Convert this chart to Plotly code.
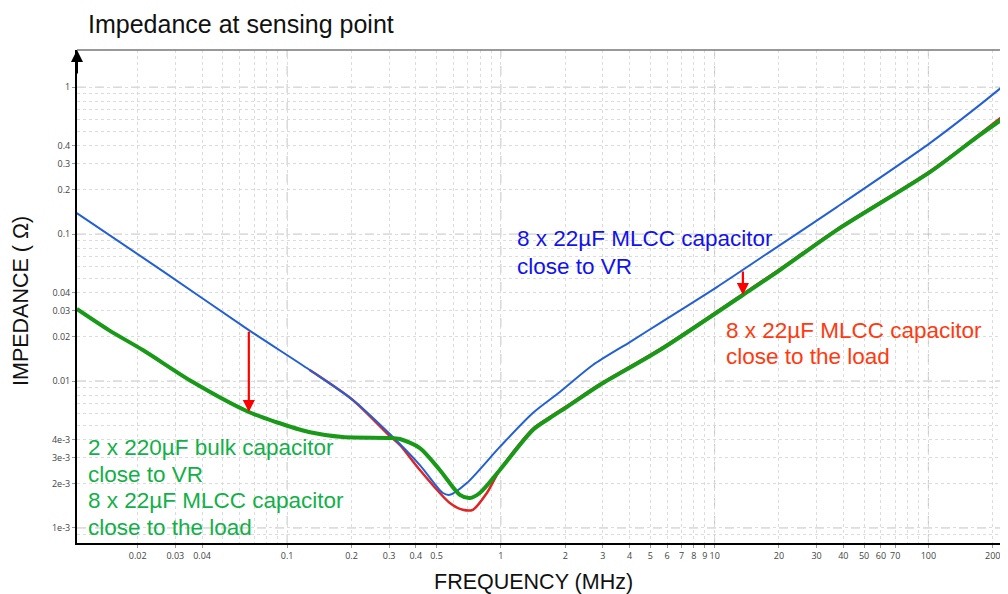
import math
import plotly.graph_objects as go

# ---------------- data (frequency in MHz, impedance in ohm) ----------------
freq_blue = [0.01038, 0.0262, 0.0662, 0.1276, 0.2029, 0.299, 0.418, 0.5355, 0.577,
             0.693, 0.989, 1.411, 1.888, 2.695, 4.015, 5.55, 10.25, 20.21, 37.3, 101.7, 168.8, 235.8]
z_blue = [0.139, 0.0560, 0.0222, 0.01188, 0.00743, 0.00443, 0.00268, 0.00173, 0.00168,
          0.00202, 0.00356, 0.00606, 0.00842, 0.01285, 0.01842, 0.0248, 0.0436, 0.0842, 0.1527,
          0.416, 0.731, 1.082]

# red coincides with blue below ~0.13 MHz (hidden underneath it in the reference)
freq_red = [0.1276, 0.2029, 0.299, 0.3368, 0.418, 0.577, 0.664,
            0.7396, 0.860, 0.989, 1.411, 1.696, 2.036, 2.905, 5.55, 13.56, 20.21, 37.3, 101.7,
            168.8, 235.8]
z_red = [0.01188, 0.00743, 0.00429, 0.00367, 0.00248, 0.00148, 0.00133,
         0.00133, 0.00173, 0.00248, 0.00472, 0.00568, 0.00676, 0.00953, 0.0165, 0.0391, 0.0578,
         0.108, 0.268, 0.464, 0.676]

freq_green = [0.01038, 0.01465, 0.02113, 0.0362, 0.0662, 0.0885, 0.1263, 0.1823, 0.299, 0.3368,
              0.418, 0.518, 0.643, 0.716, 0.797, 0.989, 1.411, 1.696, 2.036, 2.905, 5.55, 13.56,
              20.21, 37.3, 101.7, 168.8, 235.8]
z_green = [0.0309, 0.0222, 0.01625, 0.00984, 0.00615, 0.00526, 0.00450, 0.00416, 0.00410, 0.00403,
           0.00350, 0.00248, 0.00168, 0.00160, 0.00173, 0.00248, 0.00464, 0.00560, 0.00665,
           0.00939, 0.01625, 0.0385, 0.0569, 0.1065, 0.264, 0.457, 0.645]

# red arrows (frequency, start impedance, end impedance)
arrow_freq = [0.0662, 13.56]
arrow_from = [0.0222, 0.0569]
arrow_to = [0.00615, 0.0385]

x_tick_vals = [0.02, 0.03, 0.04, 0.1, 0.2, 0.3, 0.4, 0.5, 1, 2, 3, 4, 5, 6, 7, 8, 9, 10,
               20, 30, 40, 50, 60, 70, 100, 200]
x_tick_text = ["0.02", "0.03", "0.04", "0.1", "0.2", "0.3", "0.4", "0.5", "1", "2", "3", "4", "5",
               "6", "7", "8", "9", "10", "20", "30", "40", "50", "60", "70", "100", "200"]
y_tick_vals = [1, 0.4, 0.3, 0.2, 0.1, 0.04, 0.03, 0.02, 0.01, 0.004, 0.003, 0.002, 0.001]
y_tick_text = ["1", "0.4", "0.3", "0.2", "0.1", "0.04", "0.03", "0.02", "0.01",
               "4e-3", "3e-3", "2e-3", "1e-3"]

x_range = [0.0104, 235.8]
y_range = [7.9e-4, 1.79]

# ---------------- figure ----------------
# The page body has an 8px margin, so the figure is 8px smaller and every
# position is measured relative to the plot area.
OFF = 8
W, H = 1008 - OFF, 594 - OFF
PW, PH, L, T = 931, 493, 77, 50  # plot area in window pixels

fig = go.Figure()
smooth = 0.8
fig.add_trace(go.Scatter(x=freq_red, y=z_red, mode="lines",
                         line=dict(color="#e02424", width=2.5, shape="spline", smoothing=smooth),
                         name="MLCC close to the load"))
fig.add_trace(go.Scatter(x=freq_blue, y=z_blue, mode="lines",
                         line=dict(color="#2360d6", width=2, shape="spline", smoothing=smooth),
                         name="MLCC close to VR"))
fig.add_trace(go.Scatter(x=freq_green, y=z_green, mode="lines",
                         line=dict(color="#189a18", width=4, shape="spline", smoothing=smooth),
                         name="bulk + MLCC"))

decades_x = [0.01, 0.1, 1, 10, 100]
decades_y = [1e-3, 1e-2, 1e-1, 1]
minor_x = [m * d for d in [0.01, 0.1, 1, 10, 100] for m in range(1, 10)]
minor_y = [m * d for d in [1e-4, 1e-3, 1e-2, 1e-1, 1] for m in range(1, 10)]

lx0, lx1 = math.log10(x_range[0]), math.log10(x_range[1])
ly0, ly1 = math.log10(y_range[0]), math.log10(y_range[1])

shapes = []
for d in decades_x:
    p = (math.log10(d) - lx0) / (lx1 - lx0)
    if 0 < p < 1:
        shapes.append(dict(type="line", xref="paper", yref="paper", x0=p, x1=p, y0=0, y1=1,
                           line=dict(color="#c4c4c4", width=1, dash="dash"), layer="below"))
for d in decades_y:
    p = (math.log10(d) - ly0) / (ly1 - ly0)
    if 0 < p < 1:
        shapes.append(dict(type="line", xref="paper", yref="paper", x0=0, x1=1, y0=p, y1=p,
                           line=dict(color="#c4c4c4", width=1, dash="dash"), layer="below"))
shapes.append(dict(type="line", xref="paper", yref="paper", x0=0, x1=1, y0=1, y1=1,
                   line=dict(color="#777777", width=1.5)))

annotations = []
for f, a, b in zip(arrow_freq, arrow_from, arrow_to):
    annotations.append(dict(x=math.log10(f), y=math.log10(b), ax=math.log10(f), ay=math.log10(a),
                            xref="x", yref="y", axref="x", ayref="y", text="", showarrow=True,
                            arrowhead=2, arrowsize=1.1, arrowwidth=2.2, arrowcolor="#ff0000"))
annotations.append(dict(x=0, y=1.0, xref="paper", yref="paper", ax=0, ay=25, text="",
                        showarrow=True, arrowhead=2, arrowsize=1.2, arrowwidth=2, arrowcolor="#000000"))


def px(xp):
    return (xp - L) / PW


def py(yp):
    return (T + PH - yp) / PH


def label(text, xp, yc, color, size=22.5):
    annotations.append(dict(x=px(xp), y=py(yc), xref="paper", yref="paper", text=text,
                            showarrow=False, xanchor="left", yanchor="middle",
                            font=dict(family="Liberation Sans, Arial", size=size, color=color)))


label("8 x 22µF MLCC capacitor", 515, 238, "#1212f0")
label("close to VR", 515, 266, "#1212f0")
label("8 x 22µF MLCC capacitor", 724, 330, "#ff3a10")
label("close to the load", 724, 356, "#ff3a10")
label("2 x 220µF bulk capacitor", 86, 447, "#12b048")
label("close to VR", 86, 474, "#12b048")
label("8 x 22µF MLCC capacitor", 86, 500, "#12b048")
label("close to the load", 86, 527, "#12b048")

annotations.append(dict(x=px(533), y=py(582), xref="paper", yref="paper", text="FREQUENCY (MHz)",
                        showarrow=False, xanchor="center", yanchor="middle",
                        font=dict(family="Liberation Sans, Arial", size=21.5, color="#111111")))
annotations.append(dict(x=px(21), y=py(301), xref="paper", yref="paper", text="IMPEDANCE ( Ω)",
                        showarrow=False, xanchor="center", yanchor="middle", textangle=-90,
                        font=dict(family="Liberation Sans, Arial", size=21.5, color="#111111")))
annotations.append(dict(x=px(87), y=py(24), xref="paper", yref="paper",
                        text="Impedance at sensing point", showarrow=False,
                        xanchor="left", yanchor="middle", borderpad=0,
                        font=dict(family="Liberation Sans, Arial", size=25, color="#111111")))

tick_font = dict(family="Open Sans, DejaVu Sans", size=9, color="#444444")

fig.update_layout(
    width=W, height=H,
    margin=dict(l=L - OFF, r=1008 - L - PW, t=T - OFF, b=594 - T - PH),
    paper_bgcolor="white", plot_bgcolor="white",
    showlegend=False,
    shapes=shapes, annotations=annotations,
    xaxis=dict(type="log", range=[lx0, lx1], tickmode="array", tickvals=x_tick_vals,
               ticktext=x_tick_text, tickfont=tick_font, ticks="outside", ticklen=3,
               tickcolor="#999999", showgrid=False, zeroline=False,
               showline=True, linecolor="#000000", linewidth=2,
               minor=dict(tickmode="array", tickvals=minor_x, showgrid=True,
                          gridcolor="#dcdcdc", griddash="dot", gridwidth=1, ticks="")),
    yaxis=dict(type="log", range=[ly0, ly1], tickmode="array", tickvals=y_tick_vals,
               ticktext=y_tick_text, tickfont=tick_font, ticks="outside", ticklen=3,
               tickcolor="#999999", showgrid=False, zeroline=False,
               showline=True, linecolor="#000000", linewidth=2,
               minor=dict(tickmode="array", tickvals=minor_y, showgrid=True,
                          gridcolor="#dcdcdc", griddash="dot", gridwidth=1, ticks="")),
)

fig.write_html("out.html")
